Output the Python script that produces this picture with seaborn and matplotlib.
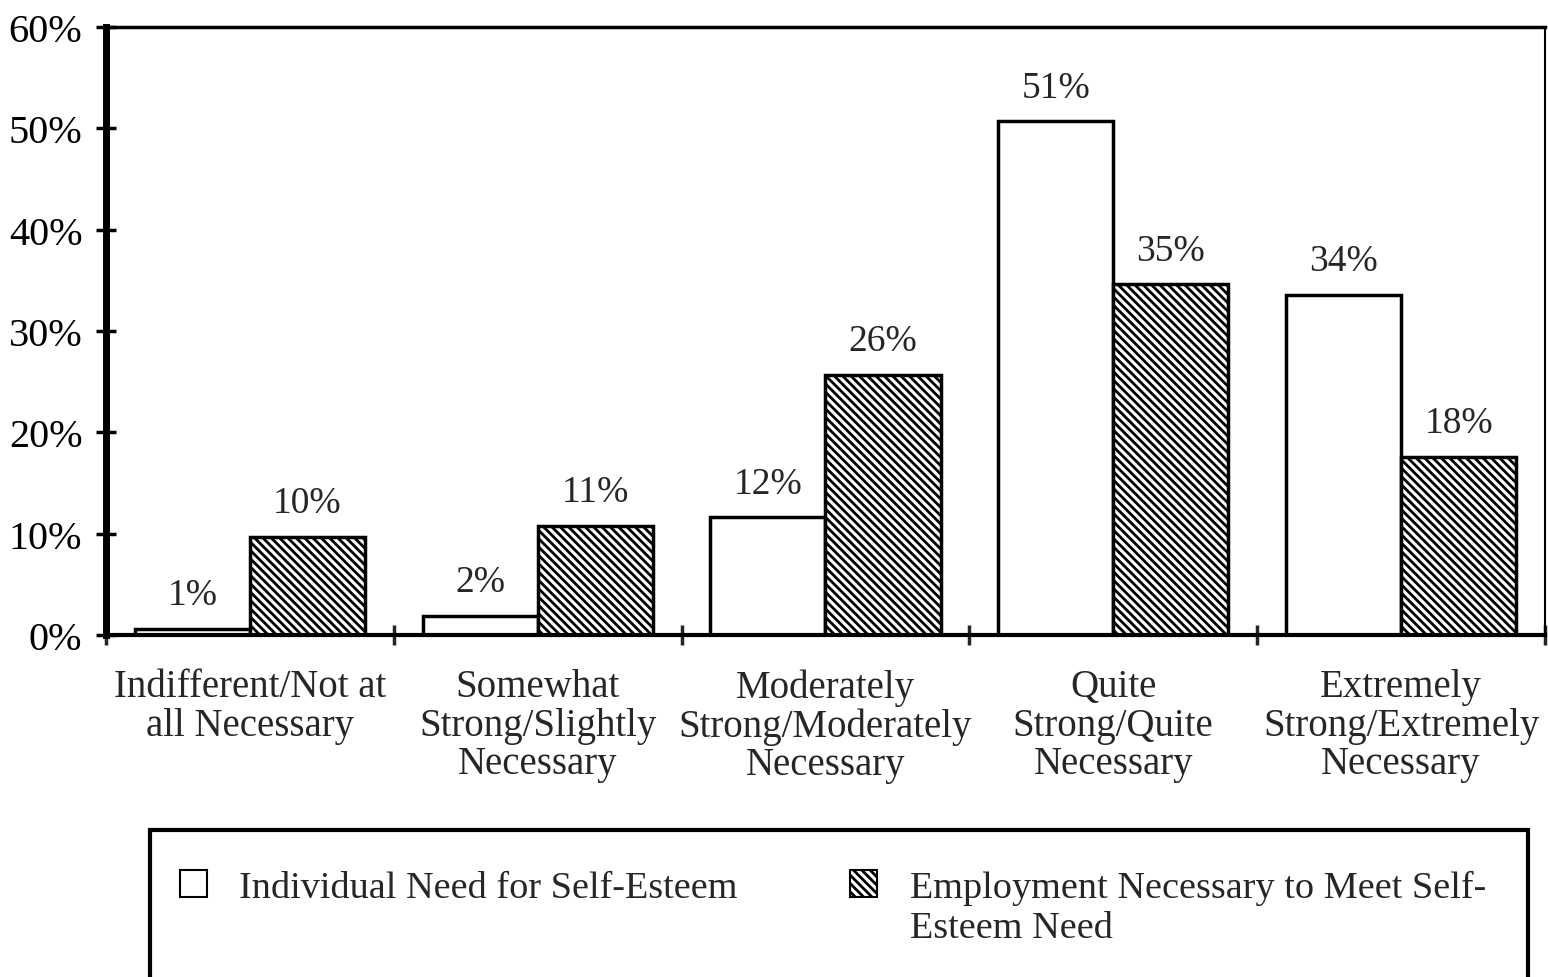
import pandas as pd
import seaborn as sns
import matplotlib.pyplot as plt
from matplotlib.patches import Patch, Rectangle
from matplotlib.ticker import FixedLocator

# values (percent)
categories = [
    "Indifferent/Not at\nall Necessary",
    "Somewhat\nStrong/Slightly\nNecessary",
    "Moderately\nStrong/Moderately\nNecessary",
    "Quite\nStrong/Quite\nNecessary",
    "Extremely\nStrong/Extremely\nNecessary",
]
series = ["Individual Need for Self-Esteem",
          "Employment Necessary to Meet Self-Esteem Need"]
individual = [0.6, 1.9, 11.6, 50.7, 33.6]
employment = [9.7, 10.8, 25.7, 34.6, 17.6]
individual_labels = ["1%", "2%", "12%", "51%", "34%"]
employment_labels = ["10%", "11%", "26%", "35%", "18%"]
yticks = [0, 10, 20, 30, 40, 50, 60]

df = pd.DataFrame({
    "category": categories * 2,
    "series": [series[0]] * 5 + [series[1]] * 5,
    "value": individual + employment,
})

sns.set_style("white")
plt.rcParams["font.family"] = ["Liberation Serif", "DejaVu Serif"]
plt.rcParams["hatch.linewidth"] = 2.0

fig = plt.figure(figsize=(15.48, 9.78), dpi=100)
ax = fig.add_axes([0.0685, 0.3497, 0.9295, 0.6217])

sns.barplot(data=df, x="category", y="value", hue="series",
            palette=["white", "white"], edgecolor="black", linewidth=2.5,
            width=0.8, saturation=1, legend=False, ax=ax)

for bar in ax.containers[1]:
    bar.set_hatch("\\\\\\\\")

ax.bar_label(ax.containers[0], labels=individual_labels, padding=12, fontsize=27)
ax.bar_label(ax.containers[1], labels=employment_labels, padding=12, fontsize=27)

ax.set_xlim(-0.5, 4.5)
ax.set_ylim(0, 60)
ax.set_yticks(yticks)
ax.set_yticklabels([f"{t}%" for t in yticks], fontsize=29)
ax.tick_params(axis="y", direction="inout", length=14, width=2.5, pad=10,
               left=True, colors="black")
ax.tick_params(axis="x", which="major", length=0, pad=24, labelsize=28)
ax.xaxis.set_minor_locator(FixedLocator([-0.5, 0.5, 1.5, 2.5, 3.5, 4.5]))
ax.tick_params(axis="x", which="minor", direction="inout", length=14,
               width=2.5, bottom=True)
for lab in ax.get_xticklabels():
    lab.set_linespacing(1.05)
ax.set_xlabel("")
ax.set_ylabel("")

for side in ["top", "right", "bottom", "left"]:
    ax.spines[side].set_visible(True)
    ax.spines[side].set_color("black")
ax.spines["left"].set_linewidth(5)
ax.spines["bottom"].set_linewidth(3)
ax.spines["top"].set_linewidth(2.5)
ax.spines["right"].set_linewidth(1.5)

# legend box
fig.patches.append(Rectangle((0.097, -0.02), 0.89, 0.17, transform=fig.transFigure,
                             fill=False, edgecolor="black", linewidth=3))
handles = [Patch(facecolor="white", edgecolor="black", linewidth=1.5),
           Patch(facecolor="white", edgecolor="black", linewidth=1.5, hatch="\\\\\\\\")]
leg_labels = [series[0], "Employment Necessary to Meet Self-"]
leg = fig.legend(handles, leg_labels, loc="upper left",
                 bbox_to_anchor=(180 / 1548, 1 - 871 / 978),
                 ncol=2, frameon=False, fontsize=27.5, handlelength=0.7,
                 handleheight=0.7, handletextpad=0.85, columnspacing=2.95,
                 borderpad=0, borderaxespad=0)

# second line of the wrapped legend label
fig.canvas.draw()
bb = leg.get_texts()[1].get_window_extent()
fig.text(bb.x0 / 1548, (bb.y0 - 40) / 978, "Esteem Need", fontsize=27.5,
         ha="left", va="bottom")

fig.savefig("out.png", dpi=100)
